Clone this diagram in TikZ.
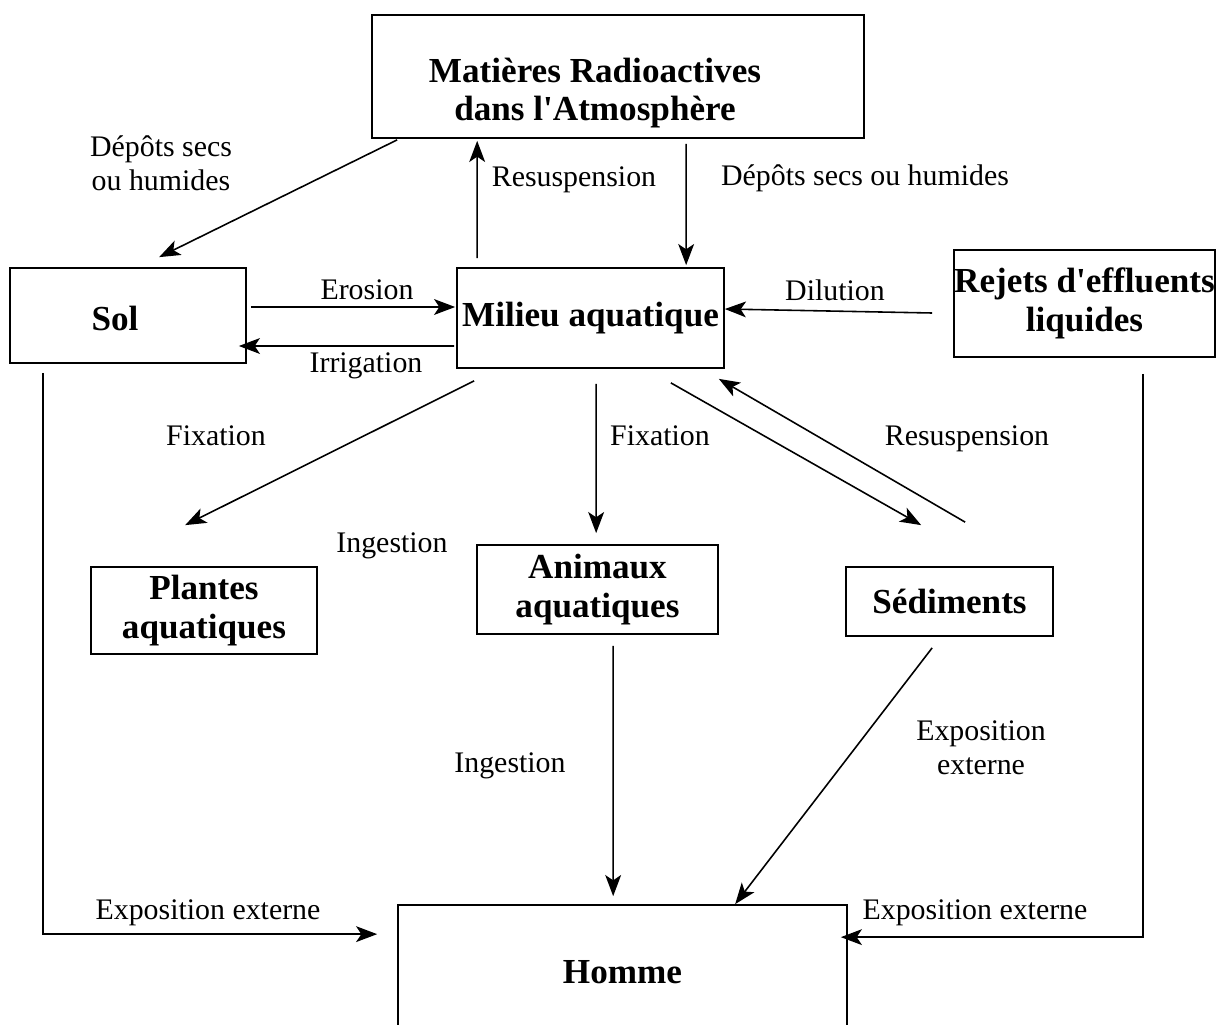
\documentclass[tikz,border=0pt]{standalone}
\usepackage{fontspec}
\setmainfont{Liberation Serif}
\usetikzlibrary{arrows.meta,calc}
\begin{document}
\begin{tikzpicture}[x=0.02cm,y=-0.02cm,
		boite/.style={draw,line width=1pt,inner sep=0pt,align=center,
			font=\fontsize{20}{22.5}\selectfont\bfseries},
		titre/.style={inner sep=0pt,align=center,
			font=\fontsize{20}{21.5}\selectfont\bfseries},
		etiquette/.style={inner sep=0pt,align=center,
			font=\fontsize{17}{19.5}\selectfont},
		fleche/.style={line width=0.9pt,-{Stealth[length=12pt,width=9pt,inset=3pt]}}]
	\clip (0,0) rectangle (1216,1024);
	% Definir les boites
	\node[boite,minimum width=9.84cm,minimum height=2.46cm] (atmo) at (618,76.5) {};
	\node[titre] (atmotxt) at (595,93) {Matières Radioactives\\dans l\textquotesingle Atmosphère};
	\node[boite,minimum width=4.72cm,minimum height=1.9cm] (sol) at (128,315.5) {};
	\node[titre] (soltxt) at (115,318) {Sol};
	\node[boite,minimum width=5.34cm,minimum height=2cm] (milieu) at (590.5,318) {Milieu aquatique};
	\node[boite,minimum width=5.22cm,minimum height=2.14cm] (rejets) at (1084.5,303.5) {Rejets d\textquotesingle effluents\\liquides};
	\node[boite,minimum width=4.52cm,minimum height=1.74cm] (plantes) at (204,610.5) {Plantes\\aquatiques};
	\node[boite,minimum width=4.82cm,minimum height=1.78cm] (animaux) at (597.5,589.5) {Animaux\\aquatiques};
	\node[boite,minimum width=4.14cm,minimum height=1.38cm] (sedim) at (949.5,601.5) {Sédiments};
	\node[boite,minimum width=8.98cm,minimum height=2.7cm] (homme) at (622.5,972.5) {Homme};

	% Transferts
	\draw[fleche] ($(atmo.south west)+(26,1)$) -- ($(sol.north west)+(150,-10)$);
	\draw[fleche] ($(milieu.north west)+(21,-9)$) -- ($(atmo.south west)+(106,2)$);
	\draw[fleche] ($(atmo.south west)+(315,5)$) -- ($(milieu.north west)+(230,-2)$);
	\draw[fleche] ($(sol.east)+(4,-8.5)$) -- ($(milieu.west)+(-1,-11)$);
	\draw[fleche] ($(milieu.west)+(-2,28)$) -- ($(sol.east)+(-8,30.5)$);
	\draw[fleche] ($(rejets.west)+(-21,9.5)$) -- ($(milieu.east)+(0,-9)$);
	\draw[fleche] ($(milieu.south west)+(18,12)$) -- ($(plantes.north west)+(95,-41)$);
	\draw[fleche] ($(milieu.south west)+(140,15)$) -- ($(animaux.north west)+(120,-11)$);
	\draw[fleche] ($(milieu.south east)+(-54,14)$) -- ($(sedim.north west)+(76,-41)$);
	\draw[fleche] ($(sedim.north west)+(120,-44)$) -- ($(milieu.south east)+(-6,10)$);
	\draw[fleche] ($(animaux.south west)+(137,11)$) -- ($(homme.north west)+(216,-8)$);
	\draw[fleche] ($(sedim.south west)+(87,11)$) -- ($(homme.north west)+(338,0)$);
	\draw[fleche] ($(sol.south west)+(34,9)$) |- ($(homme.north west)+(-20,30)$);
	\draw[fleche] ($(rejets.south west)+(190,16)$) |- ($(homme.north east)+(-7,33)$);

	% Etiquettes
	\node[etiquette] (l1) at (161,163) {Dépôts secs\\ou humides};
	\node[etiquette] (l2) at (574,180) {Resuspension};
	\node[etiquette] (l3) at (865,178) {Dépôts secs ou humides};
	\node[etiquette] (l4) at (367,290) {Erosion};
	\node[etiquette] (l5) at (366,366) {Irrigation};
	\node[etiquette] (l6) at (835,290) {Dilution};
	\node[etiquette] (l7) at (216,436) {Fixation};
	\node[etiquette] (l8) at (660,436) {Fixation};
	\node[etiquette] (l9) at (967,439) {Resuspension};
	\node[etiquette] (l10) at (392,546) {Ingestion};
	\node[etiquette] (l11) at (510,766) {Ingestion};
	\node[etiquette] (l12) at (981,748) {Exposition\\externe};
	\node[etiquette] (l13) at (208,913) {Exposition externe};
	\node[etiquette] (l14) at (975,913) {Exposition externe};
\end{tikzpicture}
\end{document}
